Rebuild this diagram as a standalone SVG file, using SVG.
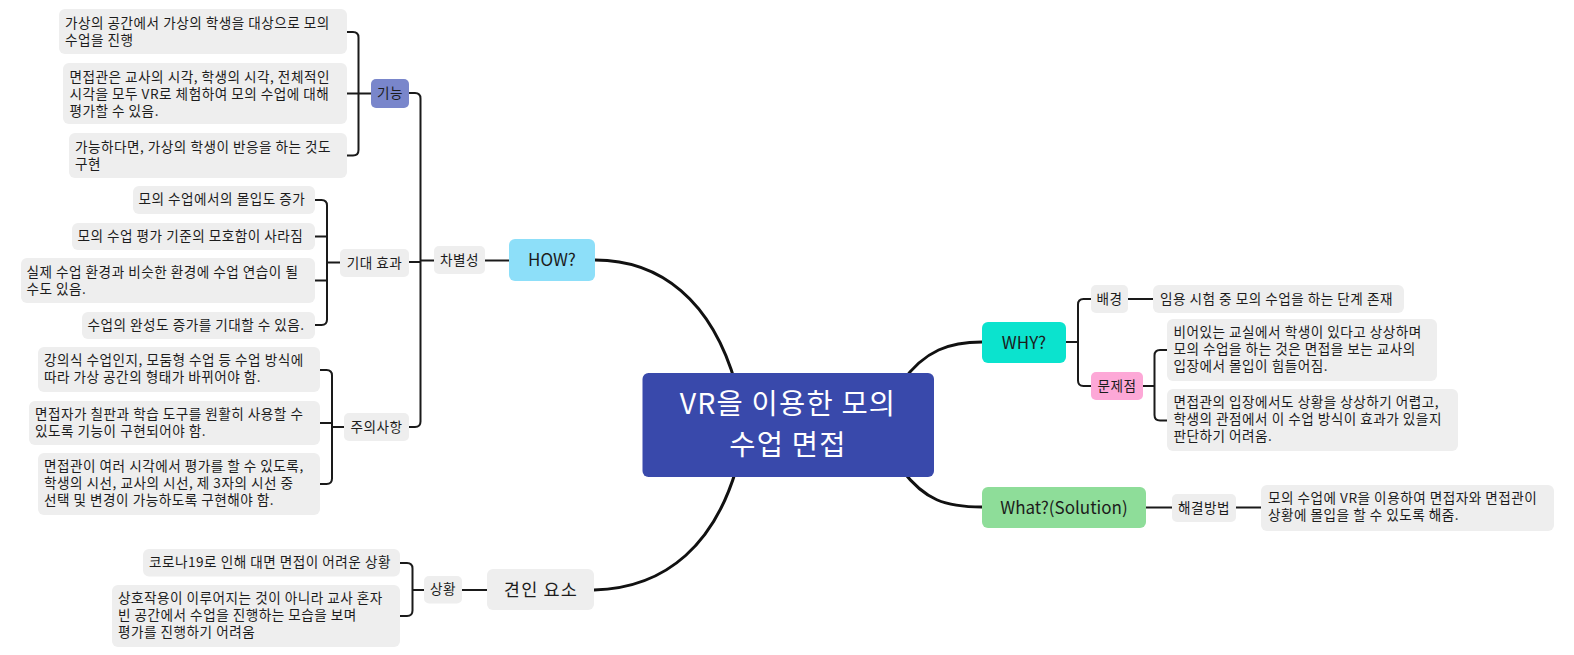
<svg xmlns="http://www.w3.org/2000/svg" width="1574" height="655" viewBox="0 0 1574 655">
<style>
text{font-family:"Noto Sans CJK KR","Noto Sans",sans-serif;fill:#1c1c1c}
.leaf rect,.lbl rect{fill:#eeeeee}
.leaf text{font-size:13.6px;letter-spacing:0.5px}
.lbl text{font-size:13.6px;letter-spacing:0.5px;text-anchor:middle}
.main text{font-size:17px;text-anchor:middle}
.ln{fill:none;stroke:#1a1a1a;stroke-width:2}
.mc{fill:none;stroke:#111;stroke-width:3}
</style>
<rect width="1574" height="655" fill="#ffffff"/>
<g id="connectors">
<path class="mc" d="M595,260 C660,260 712,300 736,385"/>
<path class="mc" d="M594,590 C670,588 715,540 736,470"/>
<path class="mc" d="M982,342 C950,342 925,350 902,382"/>
<path class="mc" d="M982,507 C945,507 925,500 902,470"/>
<path class="ln" d="M485,260.5 H509"/>
<path class="ln" d="M409,93 H415 Q420.5,93 420.5,98.5 V421.5 Q420.5,427 415,427 H409 M409,262 H420.5 M420.5,260.5 H434"/>
<path class="ln" d="M347,32 H353 Q358.5,32 358.5,37.5 V150 Q358.5,155.5 353,155.5 H347 M347,93.5 H371"/>
<path class="ln" d="M315,200 H321.5 Q327,200 327,205.5 V319.5 Q327,325 321.5,325 H315 M315,236.5 H327 M315,280.5 H327 M327,262.5 H340"/>
<path class="ln" d="M320,370 H326.5 Q332,370 332,375.5 V478.5 Q332,484 326.5,484 H320 M320,423 H332 M332,427 H344"/>
<path class="ln" d="M400,563 H407 Q412.5,563 412.5,568.5 V610.5 Q412.5,616 407,616 H400 M412.5,590 H424 M462,590 H487"/>
<path class="ln" d="M1066,342 H1078 M1091,299 H1083.5 Q1078,299 1078,304.5 V380.5 Q1078,386 1083.5,386 H1091 M1128,299 H1153"/>
<path class="ln" d="M1143,386 H1154.5 M1167,350 H1160 Q1154.5,350 1154.5,355.5 V415 Q1154.5,420.5 1160,420.5 H1167"/>
<path class="ln" d="M1146,507.5 H1172 M1236,507.5 H1261"/>
</g>
<g id="root">
<rect x="642.5" y="373" width="291.5" height="104" rx="6" fill="#3949ab"/>
<text x="788" y="413.5" font-size="28.5" letter-spacing="1.2" text-anchor="middle" style="fill:#fff"><tspan x="788">VR을 이용한 모의</tspan><tspan x="788" dy="41.5">수업 면접</tspan></text>
</g>
<g id="how" class="main"><rect x="509" y="239" width="86" height="42" rx="6" fill="#8ddff9"/><text x="552" y="266">HOW?</text></g>
<g id="why" class="main"><rect x="982" y="322" width="84" height="41" rx="6" fill="#0be3ce"/><text x="1024" y="348.5">WHY?</text></g>
<g id="what" class="main"><rect x="982" y="487" width="164" height="41" rx="6" fill="#8edd99"/><text x="1064" y="513.5">What?(Solution)</text></g>
<g id="gyeonin" class="main"><rect x="487" y="569" width="107" height="41" rx="6" fill="#eeeeee"/><text x="541" y="596" style="font-size:17.5px;letter-spacing:1.2px">견인 요소</text></g>

<g id="chabyeol" class="lbl"><rect x="434" y="246" width="51" height="28" rx="5"/><text x="459.5" y="264.5">차별성</text></g>
<g id="gineung" class="lbl"><rect x="371" y="79" width="38" height="29" rx="5" style="fill:#7986cb"/><text x="390" y="98">기능</text></g>
<g id="gidae" class="lbl"><rect x="340" y="249" width="69" height="28" rx="5"/><text x="374.5" y="267.5">기대 효과</text></g>
<g id="juui" class="lbl"><rect x="344" y="413" width="65" height="28" rx="5"/><text x="376.5" y="431.5">주의사항</text></g>
<g id="sanghwang" class="lbl"><rect x="424" y="576" width="38" height="27.5" rx="5"/><text x="443" y="594">상황</text></g>
<g id="baegyeong" class="lbl"><rect x="1091" y="285" width="37" height="28" rx="5"/><text x="1109.5" y="303.5">배경</text></g>
<g id="munjejeom" class="lbl"><rect x="1091" y="372" width="52" height="28" rx="5" style="fill:#fda8d7"/><text x="1117" y="390.5">문제점</text></g>
<g id="haegyeol" class="lbl"><rect x="1172" y="494" width="64" height="28" rx="5"/><text x="1204" y="512.5">해결방법</text></g>

<g id="l1" class="leaf"><rect x="59" y="9" width="288" height="45" rx="6"/><text x="65" y="27.5"><tspan x="65">가상의 공간에서 가상의 학생을 대상으로 모의</tspan><tspan x="65" dy="17">수업을 진행</tspan></text></g>
<g id="l2" class="leaf"><rect x="63" y="63" width="284" height="61" rx="6"/><text x="69.5" y="81.5"><tspan x="69.5">면접관은 교사의 시각, 학생의 시각, 전체적인</tspan><tspan x="69.5" dy="17">시각을 모두 VR로 체험하여 모의 수업에 대해</tspan><tspan x="69.5" dy="17">평가할 수 있음.</tspan></text></g>
<g id="l3" class="leaf"><rect x="69" y="133" width="278" height="45" rx="6"/><text x="75" y="151.5"><tspan x="75">가능하다면, 가상의 학생이 반응을 하는 것도</tspan><tspan x="75" dy="17">구현</tspan></text></g>

<g id="k1" class="leaf"><rect x="133" y="186" width="182" height="28" rx="6"/><text x="138.5" y="204">모의 수업에서의 몰입도 증가</text></g>
<g id="k2" class="leaf"><rect x="72" y="223" width="243" height="27" rx="6"/><text x="77.5" y="241">모의 수업 평가 기준의 모호함이 사라짐</text></g>
<g id="k3" class="leaf"><rect x="21" y="258" width="294" height="45" rx="6"/><text x="26.5" y="276.5"><tspan x="26.5">실제 수업 환경과 비슷한 환경에 수업 연습이 될</tspan><tspan x="26.5" dy="17">수도 있음.</tspan></text></g>
<g id="k4" class="leaf"><rect x="82" y="312" width="233" height="27" rx="6"/><text x="87.5" y="329.5">수업의 완성도 증가를 기대할 수 있음.</text></g>

<g id="d1" class="leaf"><rect x="38" y="347" width="282" height="45" rx="6"/><text x="44" y="365"><tspan x="44">강의식 수업인지, 모둠형 수업 등 수업 방식에</tspan><tspan x="44" dy="17">따라 가상 공간의 형태가 바뀌어야 함.</tspan></text></g>
<g id="d2" class="leaf"><rect x="29" y="401" width="291" height="44" rx="6"/><text x="35" y="419"><tspan x="35">면접자가 칠판과 학습 도구를 원활히 사용할 수</tspan><tspan x="35" dy="17">있도록 기능이 구현되어야 함.</tspan></text></g>
<g id="d3" class="leaf"><rect x="38" y="453" width="282" height="62" rx="6"/><text x="44" y="471"><tspan x="44">면접관이 여러 시각에서 평가를 할 수 있도록,</tspan><tspan x="44" dy="17">학생의 시선, 교사의 시선, 제 3자의 시선 중</tspan><tspan x="44" dy="17">선택 및 변경이 가능하도록 구현해야 함.</tspan></text></g>

<g id="e1" class="leaf"><rect x="143" y="549" width="257" height="27.5" rx="6"/><text x="149" y="567">코로나19로 인해 대면 면접이 어려운 상황</text></g>
<g id="e2" class="leaf"><rect x="112" y="585" width="288" height="62" rx="6"/><text x="118" y="603"><tspan x="118">상호작용이 이루어지는 것이 아니라 교사 혼자</tspan><tspan x="118" dy="17">빈 공간에서 수업을 진행하는 모습을 보며</tspan><tspan x="118" dy="17">평가를 진행하기 어려움</tspan></text></g>

<g id="b1" class="leaf"><rect x="1153" y="285" width="251" height="28" rx="6"/><text x="1160" y="303.5">임용 시험 중 모의 수업을 하는 단계 존재</text></g>
<g id="p1" class="leaf"><rect x="1167" y="319" width="270" height="62" rx="6"/><text x="1173.5" y="337"><tspan x="1173.5">비어있는 교실에서 학생이 있다고 상상하며</tspan><tspan x="1173.5" dy="17">모의 수업을 하는 것은 면접을 보는 교사의</tspan><tspan x="1173.5" dy="17">입장에서 몰입이 힘들어짐.</tspan></text></g>
<g id="p2" class="leaf"><rect x="1167" y="389" width="291" height="62" rx="6"/><text x="1173.5" y="407"><tspan x="1173.5">면접관의 입장에서도 상황을 상상하기 어렵고,</tspan><tspan x="1173.5" dy="17">학생의 관점에서 이 수업 방식이 효과가 있을지</tspan><tspan x="1173.5" dy="17">판단하기 어려움.</tspan></text></g>
<g id="s1" class="leaf"><rect x="1261" y="485" width="293" height="46" rx="6"/><text x="1268" y="503"><tspan x="1268">모의 수업에 VR을 이용하여 면접자와 면접관이</tspan><tspan x="1268" dy="17">상황에 몰입을 할 수 있도록 해줌.</tspan></text></g>
</svg>
